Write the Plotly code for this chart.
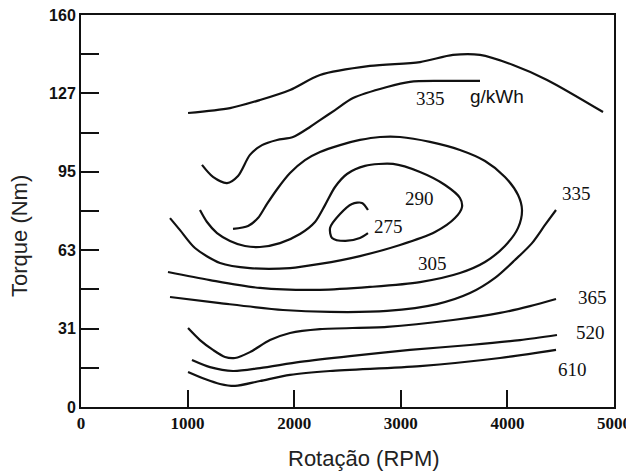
import plotly.graph_objects as go

# contour lines of the BSFC map (g/kWh): rpm / torque (Nm)
rpm_top = [1004, 1398, 1679, 1961, 2242, 2711, 3180, 3490, 3743, 4053, 4372, 4897]
tq_top = [120.0, 122.0, 125.3, 129.4, 135.5, 139.2, 140.8, 143.7, 143.7, 139.6, 133.5, 120.4]

rpm_335a = [1135, 1238, 1370, 1473, 1585, 1698, 1839, 1989, 2148, 2242, 2383, 2552, 2871, 3086, 3368, 3743]
tq_335a = [98.8, 93.9, 91.4, 94.3, 102.9, 106.9, 109.0, 110.2, 114.3, 117.1, 121.2, 126.1, 130.6, 132.7, 133.1, 133.1]

rpm_305 = [1426, 1567, 1660, 1745, 1848, 1961, 2101, 2242, 2430, 2617, 2805, 2993, 3274, 3555, 3790,
           3977, 4100, 4137, 4100, 3977, 3790, 3555, 3180, 2711, 2242, 1679, 1210, 816]
tq_305 = [72.7, 73.9, 77.1, 82.9, 89.4, 95.5, 100.8, 104.1, 106.9, 109.0, 110.2, 110.2, 108.2, 104.9, 100.4,
          93.9, 86.5, 80.4, 73.1, 65.7, 59.2, 54.7, 51.0, 49.0, 47.8, 48.6, 51.8, 55.1]

rpm_290 = [1116, 1182, 1276, 1398, 1538, 1679, 1867, 2054, 2195, 2289, 2383, 2495, 2664, 2927, 3180,
           3415, 3555, 3574, 3508, 3321, 2993, 2617, 2242, 1961, 1585, 1304, 1069, 929, 835]
tq_290 = [80.4, 75.5, 71.0, 67.8, 65.7, 65.3, 66.9, 70.6, 75.5, 82.4, 89.8, 95.1, 98.4, 99.2, 95.9,
          90.6, 85.3, 81.6, 77.1, 71.4, 66.1, 61.6, 58.4, 56.7, 56.7, 58.8, 64.9, 72.2, 77.1]

rpm_275 = [2692, 2636, 2542, 2430, 2336, 2355, 2477, 2617, 2692]
tq_275 = [80.4, 83.3, 82.9, 78.8, 73.1, 69.0, 67.8, 69.0, 71.0]

rpm_335b = [835, 1304, 1895, 2336, 2871, 3340, 3649, 3884, 4071, 4231, 4353, 4456]
tq_335b = [44.9, 42.4, 39.6, 38.8, 39.2, 42.0, 46.5, 52.7, 60.0, 66.9, 74.3, 80.4]

rpm_365 = [1004, 1116, 1238, 1351, 1445, 1585, 1773, 1961, 2242, 2871, 3490, 3931, 4212, 4456]
tq_365 = [32.2, 27.3, 23.3, 20.4, 20.0, 22.4, 27.3, 30.2, 31.8, 32.7, 35.5, 38.4, 41.2, 44.1]

rpm_520 = [1041, 1210, 1426, 1679, 2054, 2523, 3086, 3649, 4118, 4465]
tq_520 = [19.2, 16.3, 14.7, 15.9, 18.4, 20.8, 23.3, 25.3, 27.3, 29.4]

rpm_610 = [1004, 1163, 1304, 1445, 1679, 1961, 2336, 3180, 3931, 4456]
tq_610 = [14.3, 11.4, 9.4, 8.6, 10.6, 13.1, 14.7, 16.7, 20.0, 23.3]

# contour labels
label_text = ["335", "290", "275", "305", "335", "365", "520", "610"]
label_rpm = [3274, 3180, 2880, 3293, 4644, 4794, 4784, 4606]
label_tq = [126.1, 85.3, 73.5, 58.4, 87.3, 44.9, 30.6, 15.5]

y_tick_pos = [0, 16, 32, 48, 64, 80, 96, 112, 128, 144, 160]
y_tick_text = ["0", "", "31", "", "63", "", "95", "", "127", "", "160"]
x_ticks = [0, 1000, 2000, 3000, 4000, 5000]

fig = go.Figure()
for xs, ys in [(rpm_top, tq_top), (rpm_335a, tq_335a), (rpm_305, tq_305), (rpm_290, tq_290),
               (rpm_275, tq_275), (rpm_335b, tq_335b), (rpm_365, tq_365), (rpm_520, tq_520),
               (rpm_610, tq_610)]:
    fig.add_trace(go.Scatter(x=xs, y=ys, mode="lines", line=dict(color="#111", width=2.2, shape="spline", smoothing=0.8),
                             showlegend=False, hoverinfo="skip"))

for t, x, y in zip(label_text, label_rpm, label_tq):
    fig.add_annotation(x=x, y=y, text=t, showarrow=False,
                       font=dict(family="Liberation Serif", size=19, color="#111"))
fig.add_annotation(x=3903, y=126.9, text="g/kWh", showarrow=False,
                   font=dict(family="Liberation Sans", size=19, color="#111"))

# axis titles, placed as annotations (slightly off-centre in the original)
fig.add_annotation(x=(364 - 81) / 533, y=-(458 - 407) / 392, xref="x domain", yref="y domain",
                   xanchor="center", yanchor="middle", text="Rotação (RPM)", showarrow=False,
                   font=dict(family="Liberation Sans", size=22, color="#222"))
fig.add_annotation(x=-(81 - 20) / 533, y=(407 - 236) / 392, xref="x domain", yref="y domain",
                   xanchor="center", yanchor="middle", text="Torque (Nm)", textangle=-90, showarrow=False,
                   font=dict(family="Liberation Sans", size=22, color="#222"))

fig.update_xaxes(range=[0, 5000], tickvals=x_ticks, ticks="inside", ticklen=17, tickwidth=2, tickcolor="#111",
                 showline=True, linecolor="#111", linewidth=2, mirror=True, showgrid=False, zeroline=False,
                 automargin=False, ticklabeloverflow="allow",
                 tickfont=dict(family="Liberation Serif", size=17, color="#111", weight="bold"))
fig.update_yaxes(range=[0, 160], tickvals=y_tick_pos, ticktext=y_tick_text, ticks="inside", ticklen=18,
                 tickwidth=2, tickcolor="#111", showline=True, linecolor="#111", linewidth=2, mirror=True,
                 showgrid=False, zeroline=False, automargin=False, ticklabeloverflow="allow",
                 tickfont=dict(family="Liberation Sans", size=16, color="#111", weight="bold"))
# page body has an 8px margin, so the figure is sized to fill the rest of the window
fig.update_layout(width=626, height=466, margin=dict(l=73, r=20, t=7, b=67),
                  plot_bgcolor="white", paper_bgcolor="white")
fig.write_html("out.html")
